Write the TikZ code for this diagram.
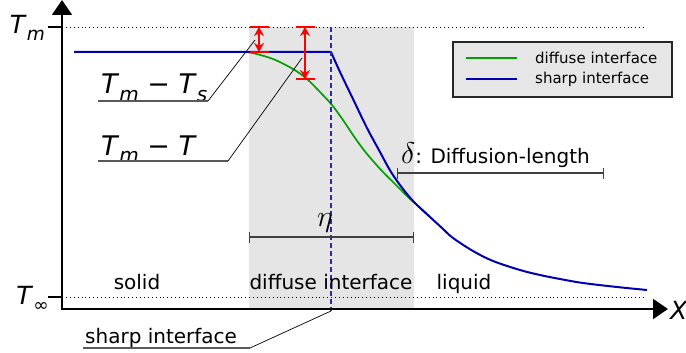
\RequirePackage{fix-cm}
\documentclass[tikz,border=0pt]{standalone}
\usepackage{fontspec}
\setmainfont{DejaVu Sans}
\usetikzlibrary{arrows.meta}
\definecolor{bluec}{HTML}{0000B0}
\definecolor{dashblue}{HTML}{2A2AB8}
\definecolor{greenc}{HTML}{00A000}
\definecolor{grayreg}{HTML}{E5E5E5}
\definecolor{legfill}{HTML}{E6E6E6}
\newcommand{\mysub}[1]{\raisebox{-0.28em}{\scalebox{0.74}{#1}}}
\begin{document}
\begin{tikzpicture}[x=1pt,y=-1pt,
  axisline/.style={line width=2pt,{Triangle[length=15pt,width=20pt]}-{Triangle[length=15pt,width=20pt]}},
  dotline/.style={line width=0.9pt,dash pattern=on 0.9pt off 3pt},
  leader/.style={line width=0.7pt,black},
  underl/.style={line width=1.1pt,black!65},
  measure/.style={line width=1.2pt,black!75,{Bar[width=11pt]}-{Bar[width=11pt]}},
  redarr/.style={red,line width=1.8pt,{Stealth[length=9pt,width=10pt]}-{Stealth[length=9pt,width=10pt]}},
  redbar/.style={red,line width=1.8pt},
  lbl/.style={font=\fontsize{20}{24}\selectfont,inner sep=0pt},
  biglbl/.style={font=\fontsize{27}{32}\selectfont,inner sep=0pt},
  axlbl/.style={font=\fontsize{25}{30}\selectfont,inner sep=0pt},
  leglbl/.style={font=\fontsize{15}{18}\selectfont,inner sep=0pt}
]
\useasboundingbox (0,0) rectangle (686,353);
% diffuse region
\fill[grayreg] (249,27) rectangle (414,309);
% dotted reference lines
\draw[dotline] (62,27) -- (645,27);
\draw[dotline] (62,297) -- (645,297);
% green diffuse curve
\draw[greenc,line width=1.7pt] plot[smooth] coordinates {(74,52) (230,52) (250,52.6) (273,59) (293,69) (307,79) (320,92) (332,105) (343,120) (353,135) (363,149) (373,161) (383,172) (397,186) (408,197) (418,206) (430,217)};
% blue sharp curve
\draw[bluec,line width=2pt] (74,52) -- (331,52) plot[smooth,tension=0.55] coordinates {(331,52) (340,72) (353,99) (367,128) (380,152) (391,172) (403,189) (414,202) (430,217) (442,228) (453,238) (473,251) (493,261) (520,270) (540,275) (560,279) (583,283) (617,287) (647,290)};
% sharp interface position
\draw[dashblue,line width=1.3pt,dash pattern=on 5pt off 3pt] (331,27) -- (331,311);
% red arrows
\draw[redbar] (250,27) -- (269,27);
\draw[redbar] (250,52) -- (269,52);
\draw[redarr] (259,27) -- (259,52);
\draw[redbar] (296,27) -- (315,27);
\draw[redbar] (296,79) -- (315,79);
\draw[redarr] (305,27) -- (305,79);
% axes
\draw[axisline] (62,0) -- (62,309) -- (668,309);
\draw[line width=1.5pt] (48,27) -- (62,27);
\draw[line width=1.5pt] (48,297) -- (62,297);
\node[axlbl,anchor=base east] (tmlbl) at (45,34) {\textit{T}\mysub{\textit{m}}};
\node[axlbl,anchor=base east] (tinf) at (49,304) {\textit{T}\mysub{∞}};
\node[font=\fontsize{25}{30}\selectfont,inner sep=0pt,anchor=base west] (xlbl) at (670,319) {\textit{X}};
% labels with leaders
\node[biglbl,anchor=base west] (tms) at (101,94) {\textit{T}\mysub{\textit{m}} − \textit{T}\mysub{\textit{s}}};
\coordinate (tmsA) at (98,101);
\coordinate (tmsB) at (208,101);
\coordinate (tmsC) at (255,40);
\draw[underl] (tmsA) -- (tmsB);
\draw[leader] (tmsB) -- (tmsC);
\node[biglbl,anchor=base west] (tmt) at (101,155) {\textit{T}\mysub{\textit{m}} − \textit{T}};
\coordinate (tmtA) at (98,161);
\coordinate (tmtB) at (228,161);
\coordinate (tmtC) at (302,58);
\draw[underl] (tmtA) -- (tmtB);
\draw[leader] (tmtB) -- (tmtC);
% measures
\coordinate (etaL) at (249,237);
\coordinate (etaR) at (414,237);
\draw[measure] (etaL) -- (etaR);
\node[inner sep=0pt,anchor=base,font=\fontsize{30}{34}\selectfont] (eta) at (325,226) {$\eta$};
\coordinate (delL) at (397,173);
\coordinate (delR) at (604,173);
\draw[measure] (delL) -- (delR);
\node[lbl,anchor=base west] (del) at (401,163) {{\fontsize{30}{34}\selectfont$\delta$}: Diffusion-length};
% region labels
\node[lbl,anchor=base] (solid) at (137,289) {solid};
\node[lbl,anchor=base] (diff) at (331,289) {diffuse interface};
\node[lbl,anchor=base] (liq) at (464,289) {liquid};
% sharp interface label
\node[lbl,anchor=base west] (sharp) at (85,343) {sharp interface};
\coordinate (shA) at (83,348);
\coordinate (shB) at (250,348);
\coordinate (shC) at (331,311);
\draw[underl] (shA) -- (shB);
\draw[leader] (shB) -- (shC);
% legend
\node[draw=black!85,fill=legfill,line width=1.5pt,minimum width=219pt,minimum height=55pt,inner sep=0pt] (legend) at (562.5,69.5) {};
\draw[greenc,line width=1.6pt] (466,58) -- (517,58);
\draw[bluec,line width=1.6pt] (466,79) -- (517,79);
\node[leglbl,anchor=west] (lg1) at (535,58) {diffuse interface};
\node[leglbl,anchor=west] (lg2) at (535,79) {sharp interface};
\end{tikzpicture}
\end{document}
